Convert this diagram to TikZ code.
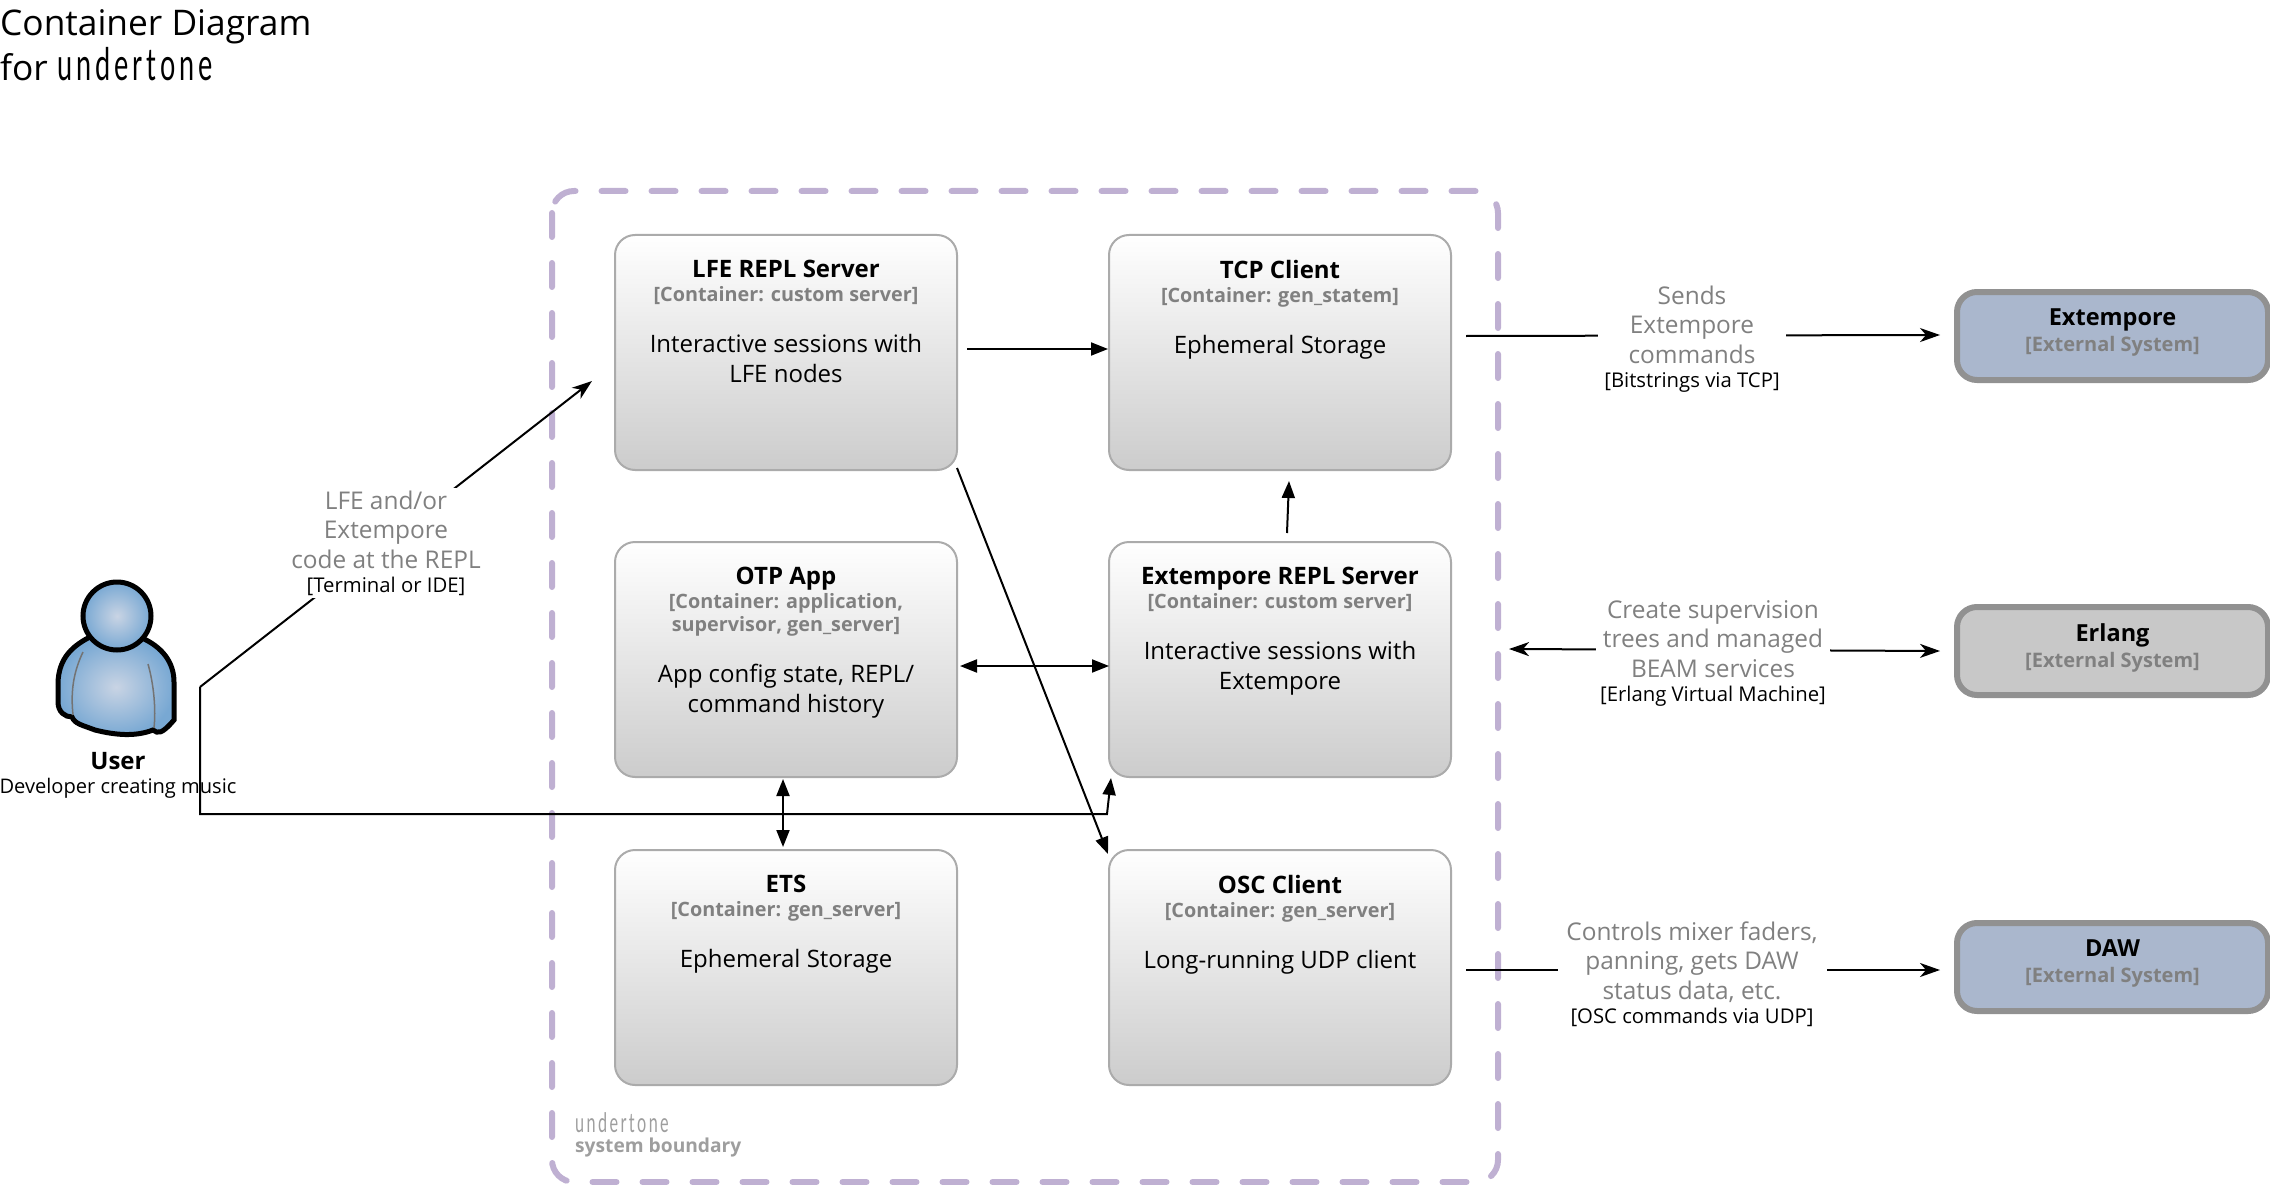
\documentclass[tikz,border=0pt]{standalone}
\usepackage{fontspec}
\setmainfont{Open Sans}
\newfontfamily\tonefont[FakeStretch=0.6,LetterSpace=9]{Lato}
\usetikzlibrary{arrows.meta}
\definecolor{boundarypurple}{HTML}{BFB0D2}
\definecolor{subgray}{HTML}{808080}
\definecolor{extblue}{HTML}{AAB7CD}
\definecolor{extgray}{HTML}{C8C8C8}
\definecolor{edgegray}{HTML}{919191}
\definecolor{persondark}{HTML}{78A8D3}
\definecolor{personlight}{HTML}{C9D4E4}
\newcommand{\cbox}[3]{\parbox[t][218pt][t]{320pt}{\vspace*{17pt}\centering\fontsize{24}{30}\selectfont\textbf{#1}\\[1pt]
  {\fontsize{19.8}{23}\selectfont\textbf{\textcolor{subgray}{#2}}\par}\vspace{21pt}#3}}
\newcommand{\ebox}[2]{\parbox[c][74pt][t]{290pt}{\vspace*{10pt}\centering\fontsize{23.5}{26}\selectfont\textbf{#1}\par
  {\fontsize{20}{26}\selectfont\textbf{\textcolor{subgray}{#2}}\par}}}
\newcommand{\elabel}[2]{\centering\spaceskip=0pt\xspaceskip=0pt{\fontsize{24.4}{29.5}\selectfont\textcolor{subgray}{#1}\par}{\fontsize{20.3}{24}\selectfont #2\par}}
\tikzset{
  container/.style={draw=black!33,line width=2pt,rounded corners=20pt,top color=white,bottom color=black!20,
    minimum width=342pt,minimum height=235pt,inner sep=0pt,anchor=north west},
  extsystem/.style={draw=edgegray,line width=6pt,rounded corners=20pt,minimum width=311pt,minimum height=88pt,
    inner sep=0pt,anchor=north west},
  flow/.style={-{Stealth[length=20pt,width=14pt,inset=6pt]},line width=2pt},
  dep/.style={-{Triangle[length=17pt,width=13pt]},line width=2pt},
  twoway/.style={{Triangle[length=17pt,width=13pt]}-{Triangle[length=17pt,width=13pt]},line width=2pt},
  edgelabel/.style={fill=white,inner sep=0pt},
  boundary/.style={draw=boundarypurple,line width=6pt,line cap=round,dash pattern=on 24pt off 26pt,rounded corners=22pt}
}
\begin{document}
\begin{tikzpicture}[x=1pt,y=-1pt]
  \useasboundingbox (0,0) rectangle (2270,1185);
  % titles
  \node [anchor=west,inner sep=0pt,font=\fontsize{35.3}{35}\selectfont] (title) at (0,27) {Container Diagram};
  \node [anchor=west,inner sep=0pt,font=\fontsize{35.3}{35}\selectfont] (subtitle) at (0,64) {for {\tonefont\fontsize{45}{45}\selectfont undertone}};
  % boundary
  \draw [boundary] (552,191) rectangle (1498,1182);
  \node [anchor=north west,inner sep=0pt,align=left,text=black!38] (bound) at (575,1112)
    {{\tonefont\fontsize{27}{28}\selectfont undertone}\\[5pt]{\fontsize{19.2}{24}\selectfont\textbf{system boundary}}};
  % containers
  \node [container] (lfe) at (614,234) {\cbox{LFE REPL Server}{[Container: custom server]}{Interactive sessions with\\LFE nodes}};
  \node [container] (tcp) at (1108,234) {\cbox{TCP Client}{[Container: gen\_statem]}{Ephemeral Storage}};
  \node [container] (otp) at (614,541) {\cbox{OTP App}{[Container: application,\\supervisor, gen\_server]}{App config state, REPL/\\command history}};
  \node [container] (xrepl) at (1108,541) {\cbox{Extempore REPL Server}{[Container: custom server]}{Interactive sessions with\\Extempore}};
  \node [container] (ets) at (614,849) {\cbox{ETS}{[Container: gen\_server]}{Ephemeral Storage}};
  \node [container] (osc) at (1108,849) {\cbox{OSC Client}{[Container: gen\_server]}{Long-running UDP client}};
  % external systems
  \node [extsystem,fill=extblue] (extempore) at (1954,289) {\ebox{Extempore}{[External System]}};
  \node [extsystem,fill=extgray] (erlang) at (1954,604) {\ebox{Erlang}{[External System]}};
  \node [extsystem,fill=extblue] (daw) at (1954,920) {\ebox{DAW}{[External System]}};
  % user
  \path [draw=black,line width=5pt,inner color=personlight,outer color=persondark]
    (90,637) .. controls (68,648) and (59,662) .. (58,682) -- (58,702)
    .. controls (58,712) and (65,717) .. (72,717) .. controls (75,724) and (82,725) .. (95,730)
    .. controls (115,735) and (135,737) .. (153,730) .. controls (158,734) and (162,734) .. (174,720)
    -- (174,682) .. controls (174,662) and (162,647) .. (142,638) -- cycle;
  \draw [draw=black!60,line width=1.5pt] (92,637) .. controls (100,652) and (132,652) .. (141,638);
  \draw [draw=black!55,line width=1.5pt] (83,652) .. controls (72,675) and (71,695) .. (73,715);
  \draw [draw=black!55,line width=1.5pt] (148,664) .. controls (154,685) and (156,710) .. (154,728);
  \node [circle,draw=black,line width=5pt,inner color=personlight,outer color=persondark,minimum size=68pt,inner sep=0pt] (head) at (117,616) {};
  \node [inner sep=0pt,font=\fontsize{24}{26}\selectfont\bfseries] (user) at (118,761) {User};
  \node [inner sep=0pt,font=\fontsize{20.1}{24}\selectfont] (userdesc) at (118,788) {Developer creating music};
  % connectors
  \coordinate (userout) at (200,687);
  \coordinate (lfein) at (592,381);
  \coordinate (xreplin) at (1111,778);
  \coordinate (lfeout) at (967,349);
  \coordinate (tcpin) at (1108,349);
  \coordinate (lfedown) at (957,468);
  \coordinate (oscin) at (1108,854);
  \coordinate (xreplup) at (1287,533);
  \coordinate (tcpup) at (1289,481);
  \coordinate (otpeast) at (960,666);
  \coordinate (xreplwest) at (1109,666);
  \coordinate (otpsouth) at (783,779);
  \coordinate (etsnorth) at (783,847);
  \coordinate (tcpout) at (1466,336);
  \coordinate (extemporein) at (1940,335);
  \coordinate (xreplout) at (1509,649);
  \coordinate (erlangin) at (1940,651);
  \coordinate (oscout) at (1466,970);
  \coordinate (dawin) at (1940,970);
  \draw [flow] (userout) -- (lfein);
  \draw [dep] (userout) -- (200,814) -- (1107,814) -- (xreplin);
  \draw [dep] (lfeout) -- (tcpin);
  \draw [dep] (lfedown) -- (oscin);
  \draw [dep] (xreplup) -- (tcpup);
  \draw [twoway] (otpeast) -- (xreplwest);
  \draw [twoway] (otpsouth) -- (etsnorth);
  \draw [flow] (tcpout) -- (extemporein);
  \draw [flow,{Stealth[length=20pt,width=14pt,inset=6pt]}-{Stealth[length=20pt,width=14pt,inset=6pt]}] (xreplout) -- (erlangin);
  \draw [flow] (oscout) -- (dawin);
  % connector labels
  \node [edgelabel,text width=192pt,minimum height=110pt] (userlabel) at (386,543)
    {\elabel{LFE and/or\\Extempore\\code at the REPL}{[Terminal or IDE]}};
  \node [edgelabel,text width=188pt] (sendslabel) at (1692,339)
    {\elabel{Sends\\Extempore\\commands}{[Bitstrings via TCP]}};
  \node [edgelabel,text width=234pt] (erlanglabel) at (1713,653)
    {\elabel{Create supervision\\trees and managed\\BEAM services}{[Erlang Virtual Machine]}};
  \node [edgelabel,text width=269pt] (osclabel) at (1692,974)
    {\elabel{Controls mixer faders,\\panning, gets DAW\\status data, etc.}{[OSC commands via UDP]}};
\end{tikzpicture}
\end{document}
